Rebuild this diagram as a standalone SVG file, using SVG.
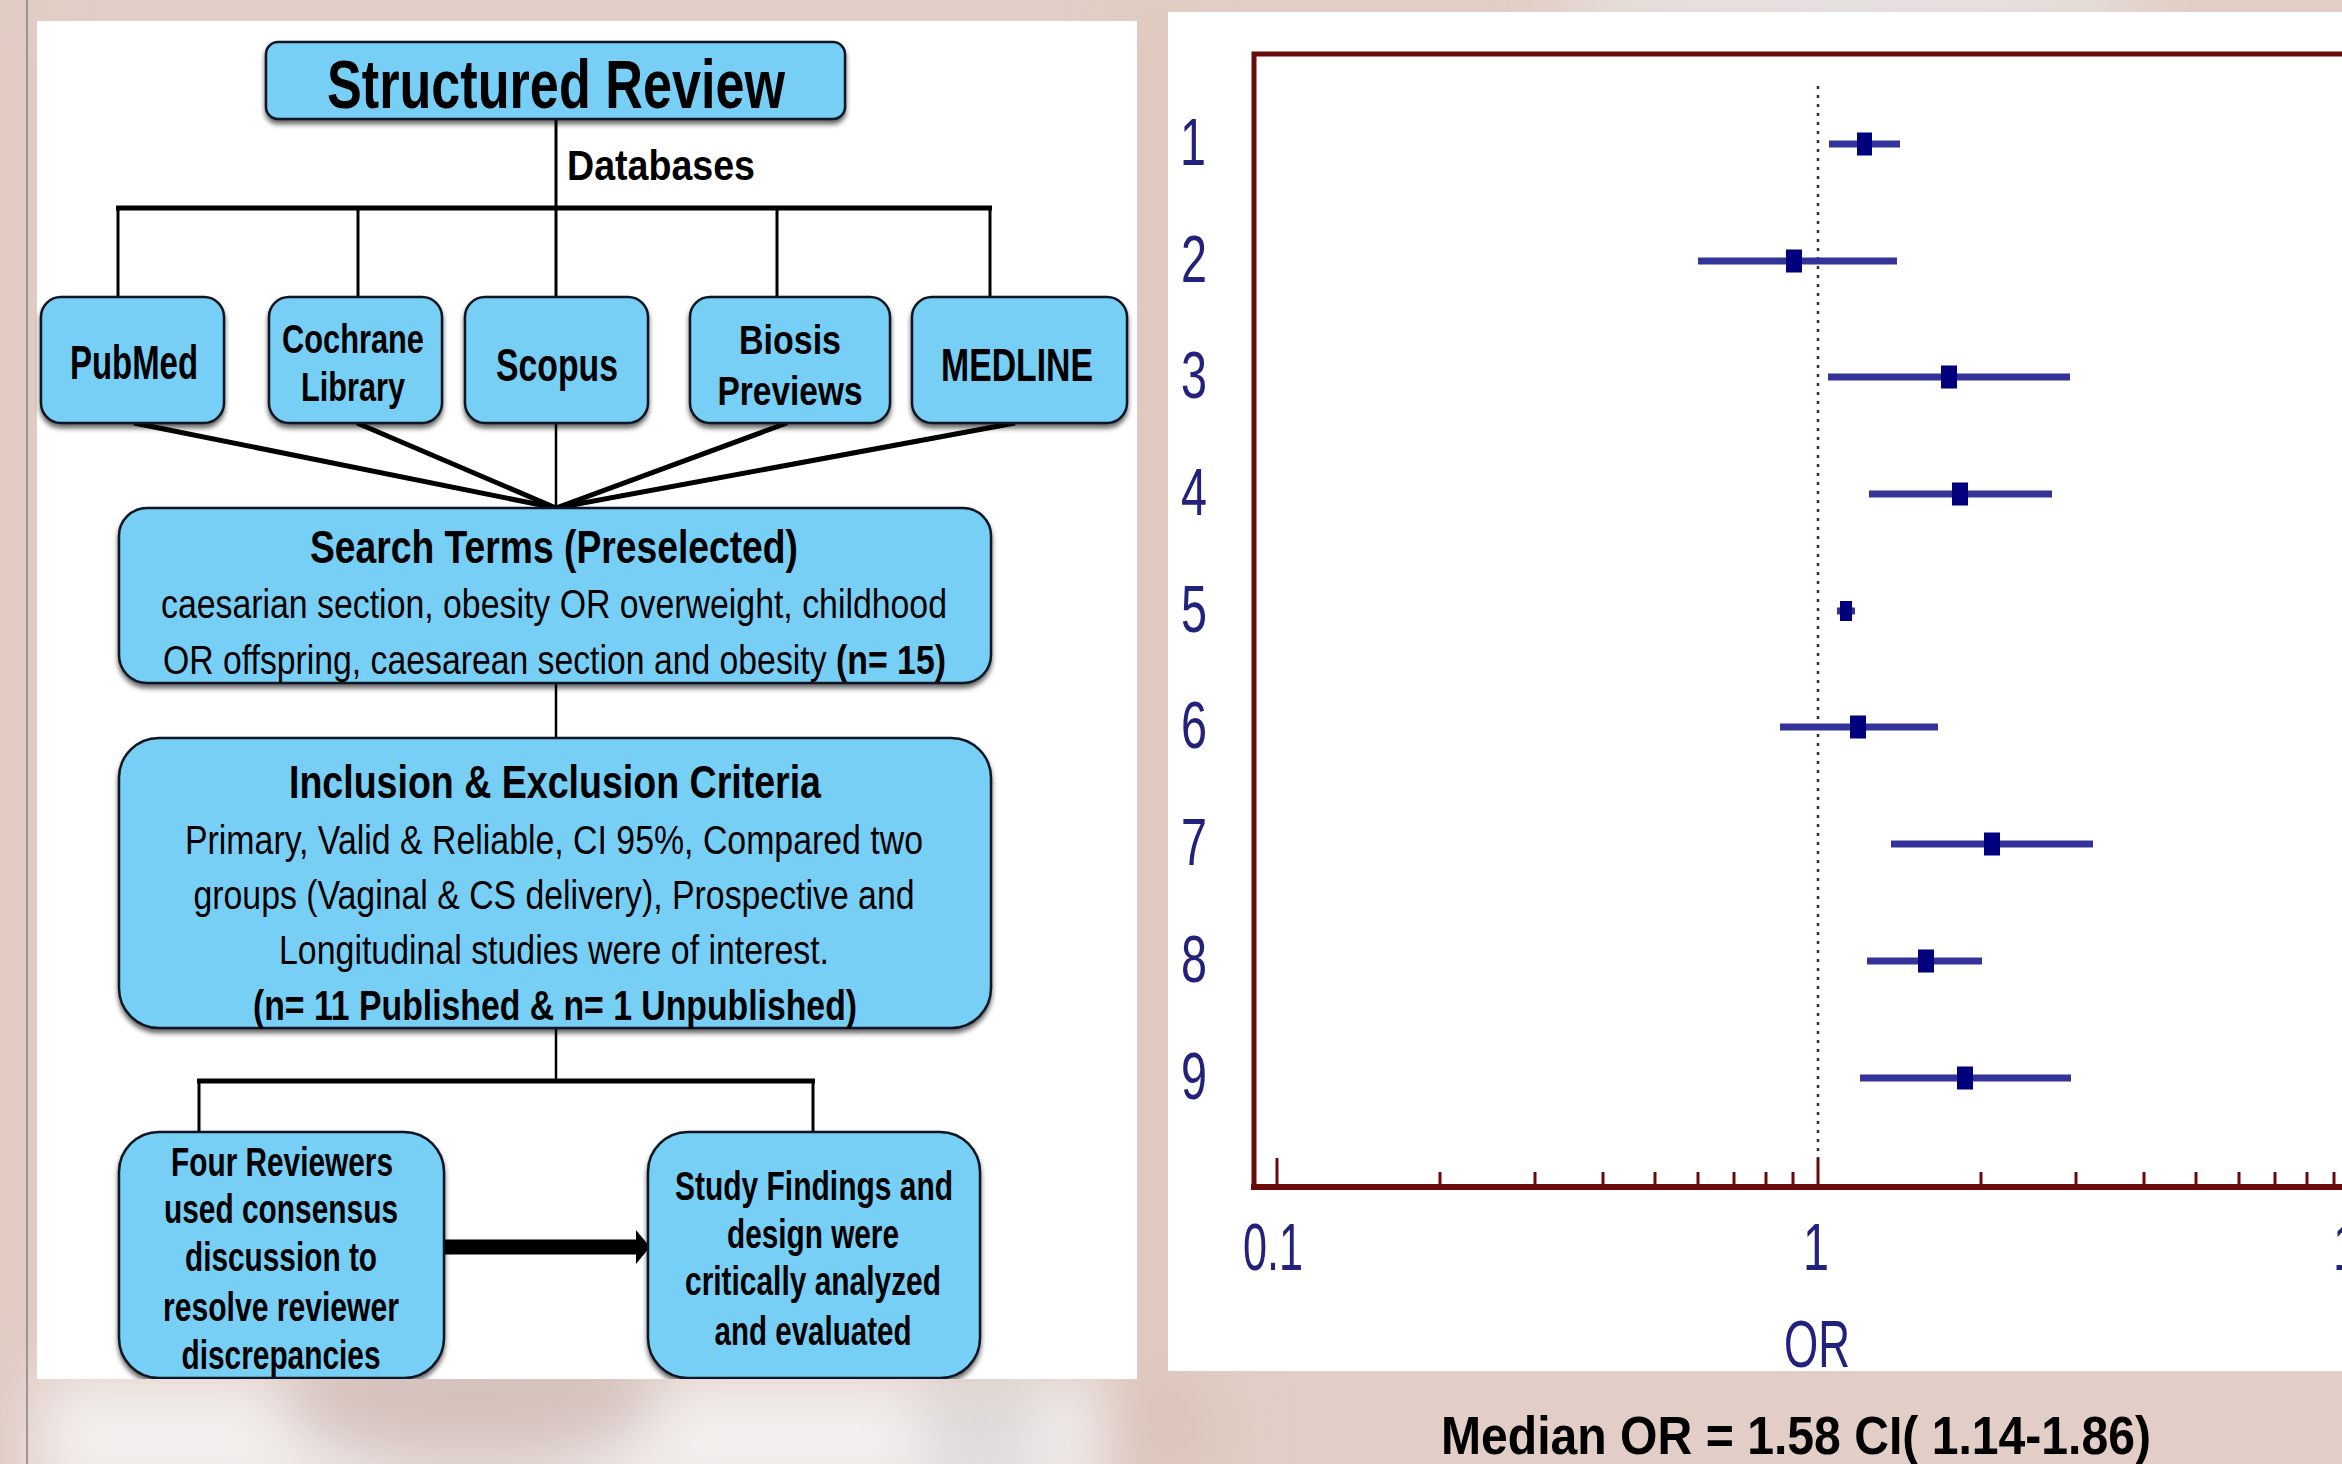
<svg xmlns="http://www.w3.org/2000/svg" width="2342" height="1464" viewBox="0 0 2342 1464">
<defs>
<style>
.box{fill:#78cff6;stroke:#0e1620;stroke-width:2.5;filter:url(#sh)}
.t{font-family:'Liberation Sans',Arial,Helvetica,sans-serif;fill:#000;text-anchor:middle}
.s{text-anchor:start}
.b{font-weight:bold}
.ln{stroke:#000;fill:none;stroke-linecap:butt}
.frame{stroke:#6b0a0a;fill:none}
.tick{stroke:#6b0a0a;stroke-width:3}
.bar{stroke:#33339a;stroke-width:7}
.sq{fill:#00007f}
.pl{font-family:'Liberation Sans',Arial,Helvetica,sans-serif;fill:#22227c;text-anchor:middle;font-size:66px}
</style>
<filter id="sh" x="-10%" y="-10%" width="120%" height="130%">
<feDropShadow dx="0" dy="4" stdDeviation="2.5" flood-color="#000" flood-opacity="0.6"/>
</filter>
<filter id="blur" x="-20%" y="-20%" width="140%" height="140%">
<feGaussianBlur stdDeviation="30"/>
</filter>
<clipPath id="lp"><rect x="37" y="21" width="1100" height="1358"/></clipPath>
<marker id="ah" markerUnits="userSpaceOnUse" markerWidth="15" markerHeight="34" refX="0" refY="17" orient="auto">
<path d="M0,0 L14,17 L0,34 z" fill="#000"/>
</marker>
</defs>

<g id="background">
<rect x="0" y="0" width="2342" height="1464" fill="#e2cec6"/>
<g filter="url(#blur)">
<ellipse cx="1850" cy="0" rx="300" ry="40" fill="#e6e4e4"/>
<rect x="40" y="1380" width="1060" height="120" fill="#f3f0ef"/>
<ellipse cx="470" cy="1400" rx="190" ry="70" fill="#d6c2bd"/>
<rect x="920" y="1380" width="120" height="100" fill="#dedada"/>
<rect x="1100" y="1380" width="120" height="100" fill="#dbc5bc"/>
<rect x="1140" y="0" width="28" height="1464" fill="#dbc1b8"/>
<rect x="0" y="0" width="24" height="1464" fill="#dfc5be"/>
</g>
<line x1="27" y1="0" x2="27" y2="1464" stroke="#9c9595" stroke-width="2"/>
<rect x="37" y="21" width="1100" height="1358" fill="#ffffff"/>
<rect x="1168" y="12" width="1174" height="1359" fill="#ffffff"/>
</g>

<g id="connectors">
<line class="ln" x1="556" y1="119" x2="556" y2="208" stroke-width="3"/>
<line class="ln" x1="116" y1="208" x2="992" y2="208" stroke-width="5"/>
<line class="ln" x1="118" y1="208" x2="118" y2="297" stroke-width="3"/>
<line class="ln" x1="358" y1="208" x2="358" y2="297" stroke-width="3"/>
<line class="ln" x1="556" y1="208" x2="556" y2="297" stroke-width="3"/>
<line class="ln" x1="777" y1="208" x2="777" y2="297" stroke-width="3"/>
<line class="ln" x1="990" y1="208" x2="990" y2="297" stroke-width="3"/>
<line class="ln" x1="134" y1="423" x2="556" y2="508" stroke-width="5"/>
<line class="ln" x1="357" y1="423" x2="556" y2="508" stroke-width="5"/>
<line class="ln" x1="556" y1="423" x2="556" y2="508" stroke-width="2.5"/>
<line class="ln" x1="787" y1="423" x2="556" y2="508" stroke-width="5"/>
<line class="ln" x1="1015" y1="423" x2="556" y2="508" stroke-width="5"/>
<line class="ln" x1="556" y1="683" x2="556" y2="738" stroke-width="2.5"/>
<line class="ln" x1="556" y1="1028" x2="556" y2="1081" stroke-width="2.5"/>
<line class="ln" x1="197" y1="1081" x2="815" y2="1081" stroke-width="5"/>
<line class="ln" x1="199" y1="1081" x2="199" y2="1132" stroke-width="3"/>
<line class="ln" x1="813" y1="1081" x2="813" y2="1132" stroke-width="3"/>
<line class="ln" x1="444" y1="1247" x2="636" y2="1247" stroke-width="15" marker-end="url(#ah)"/>
</g>

<g id="n-title">
<rect class="box" x="266" y="42" width="579" height="77" rx="12"/>
<text class="t b" x="556" y="108" font-size="68" textLength="458" lengthAdjust="spacingAndGlyphs">Structured Review</text>
</g>
<g id="n-databases-label">
<text class="t b s" x="567" y="180" font-size="42" textLength="188" lengthAdjust="spacingAndGlyphs">Databases</text>
</g>

<g id="n-pubmed">
<rect class="box" x="41" y="297" width="183" height="126" rx="20"/>
<text class="t b" x="134" y="379" font-size="48" textLength="128" lengthAdjust="spacingAndGlyphs">PubMed</text>
</g>
<g id="n-cochrane">
<rect class="box" x="269" y="297" width="173" height="126" rx="20"/>
<text class="t b" x="353" y="353" font-size="41" textLength="142" lengthAdjust="spacingAndGlyphs">Cochrane</text>
<text class="t b" x="353" y="401" font-size="41" textLength="104" lengthAdjust="spacingAndGlyphs">Library</text>
</g>
<g id="n-scopus">
<rect class="box" x="465" y="297" width="183" height="126" rx="20"/>
<text class="t b" x="557" y="381" font-size="47" textLength="122" lengthAdjust="spacingAndGlyphs">Scopus</text>
</g>
<g id="n-biosis">
<rect class="box" x="690" y="297" width="200" height="126" rx="20"/>
<text class="t b" x="790" y="354" font-size="41" textLength="102" lengthAdjust="spacingAndGlyphs">Biosis</text>
<text class="t b" x="790" y="405" font-size="41" textLength="145" lengthAdjust="spacingAndGlyphs">Previews</text>
</g>
<g id="n-medline">
<rect class="box" x="912" y="297" width="215" height="126" rx="20"/>
<text class="t b" x="1017" y="381" font-size="47" textLength="152" lengthAdjust="spacingAndGlyphs">MEDLINE</text>
</g>

<g id="n-search">
<rect class="box" x="119" y="508" width="872" height="175" rx="28"/>
<text class="t b" x="554" y="563" font-size="46" textLength="488" lengthAdjust="spacingAndGlyphs">Search Terms (Preselected)</text>
<text class="t" x="554" y="618" font-size="40" textLength="786" lengthAdjust="spacingAndGlyphs">caesarian section, obesity OR overweight, childhood</text>
<text class="t s" transform="translate(163,674) scale(0.844,1)" x="0" y="0" font-size="40">OR offspring, caesarean section and obesity</text>
<text class="t b s" transform="translate(836,674) scale(0.846,1)" x="0" y="0" font-size="40">(n= 15)</text>
</g>

<g id="n-inclusion">
<rect class="box" x="119" y="738" width="872" height="290" rx="40"/>
<text class="t b" x="555" y="798" font-size="46" textLength="532" lengthAdjust="spacingAndGlyphs">Inclusion &amp; Exclusion Criteria</text>
<text class="t" x="554" y="854" font-size="40" textLength="738" lengthAdjust="spacingAndGlyphs">Primary, Valid &amp; Reliable, CI 95%, Compared two</text>
<text class="t" x="554" y="909" font-size="40" textLength="721" lengthAdjust="spacingAndGlyphs">groups (Vaginal &amp; CS delivery), Prospective and</text>
<text class="t" x="554" y="964" font-size="40" textLength="550" lengthAdjust="spacingAndGlyphs">Longitudinal studies were of interest.</text>
<text class="t b" x="555" y="1020" font-size="42" textLength="604" lengthAdjust="spacingAndGlyphs">(n= 11 Published &amp; n= 1 Unpublished)</text>
</g>

<g id="n-reviewers" clip-path="url(#lp)">
<rect class="box" x="119" y="1132" width="325" height="246" rx="40"/>
<text class="t b" x="282" y="1176" font-size="40" textLength="222" lengthAdjust="spacingAndGlyphs">Four Reviewers</text>
<text class="t b" x="281" y="1223" font-size="40" textLength="234" lengthAdjust="spacingAndGlyphs">used consensus</text>
<text class="t b" x="281" y="1271" font-size="40" textLength="192" lengthAdjust="spacingAndGlyphs">discussion to</text>
<text class="t b" x="281" y="1321" font-size="40" textLength="236" lengthAdjust="spacingAndGlyphs">resolve reviewer</text>
<text class="t b" x="281" y="1369" font-size="40" textLength="199" lengthAdjust="spacingAndGlyphs">discrepancies</text>
</g>

<g id="n-findings" clip-path="url(#lp)">
<rect class="box" x="648" y="1132" width="332" height="246" rx="40"/>
<text class="t b" x="814" y="1200" font-size="40" textLength="278" lengthAdjust="spacingAndGlyphs">Study Findings and</text>
<text class="t b" x="813" y="1248" font-size="40" textLength="172" lengthAdjust="spacingAndGlyphs">design were</text>
<text class="t b" x="813" y="1295" font-size="40" textLength="256" lengthAdjust="spacingAndGlyphs">critically analyzed</text>
<text class="t b" x="813" y="1345" font-size="40" textLength="197" lengthAdjust="spacingAndGlyphs">and evaluated</text>
</g>

<g id="forest-plot">
<path class="frame" d="M1254,1187 V54 H2342" stroke-width="5"/>
<line class="frame" x1="1251" y1="1187" x2="2342" y2="1187" stroke-width="6"/>
<line x1="1818" y1="86" x2="1818" y2="1158" stroke="#2b2b55" stroke-width="2.5" stroke-dasharray="3 6"/>
<g id="ticks">
<line class="tick" x1="1277" y1="1158" x2="1277" y2="1187"/>
<line class="tick" x1="1818" y1="1158" x2="1818" y2="1187"/>
<line class="tick" x1="1440" y1="1172" x2="1440" y2="1187"/>
<line class="tick" x1="1535" y1="1172" x2="1535" y2="1187"/>
<line class="tick" x1="1603" y1="1172" x2="1603" y2="1187"/>
<line class="tick" x1="1655" y1="1172" x2="1655" y2="1187"/>
<line class="tick" x1="1698" y1="1172" x2="1698" y2="1187"/>
<line class="tick" x1="1734" y1="1172" x2="1734" y2="1187"/>
<line class="tick" x1="1766" y1="1172" x2="1766" y2="1187"/>
<line class="tick" x1="1793" y1="1172" x2="1793" y2="1187"/>
<line class="tick" x1="1981" y1="1172" x2="1981" y2="1187"/>
<line class="tick" x1="2076" y1="1172" x2="2076" y2="1187"/>
<line class="tick" x1="2144" y1="1172" x2="2144" y2="1187"/>
<line class="tick" x1="2196" y1="1172" x2="2196" y2="1187"/>
<line class="tick" x1="2239" y1="1172" x2="2239" y2="1187"/>
<line class="tick" x1="2275" y1="1172" x2="2275" y2="1187"/>
<line class="tick" x1="2307" y1="1172" x2="2307" y2="1187"/>
<line class="tick" x1="2334" y1="1172" x2="2334" y2="1187"/>
</g>
<g id="row-labels">
<text class="pl" x="1193" y="165" textLength="26" lengthAdjust="spacingAndGlyphs">1</text>
<text class="pl" x="1194" y="282" textLength="26" lengthAdjust="spacingAndGlyphs">2</text>
<text class="pl" x="1194" y="398" textLength="26" lengthAdjust="spacingAndGlyphs">3</text>
<text class="pl" x="1194" y="515" textLength="26" lengthAdjust="spacingAndGlyphs">4</text>
<text class="pl" x="1194" y="632" textLength="26" lengthAdjust="spacingAndGlyphs">5</text>
<text class="pl" x="1194" y="748" textLength="26" lengthAdjust="spacingAndGlyphs">6</text>
<text class="pl" x="1194" y="865" textLength="26" lengthAdjust="spacingAndGlyphs">7</text>
<text class="pl" x="1194" y="982" textLength="26" lengthAdjust="spacingAndGlyphs">8</text>
<text class="pl" x="1194" y="1099" textLength="26" lengthAdjust="spacingAndGlyphs">9</text>
</g>
<g id="estimates">
<line class="bar" x1="1829" y1="144" x2="1900" y2="144"/><rect class="sq" x="1857" y="132.5" width="15" height="23"/>
<line class="bar" x1="1698" y1="261" x2="1897" y2="261"/><rect class="sq" x="1786" y="249.5" width="16" height="23"/>
<line class="bar" x1="1828" y1="377" x2="2070" y2="377"/><rect class="sq" x="1941" y="365.5" width="16" height="23"/>
<line class="bar" x1="1869" y1="494" x2="2052" y2="494"/><rect class="sq" x="1952" y="482.5" width="16" height="23"/>
<line class="bar" x1="1837" y1="611" x2="1855" y2="611"/><rect class="sq" x="1840" y="601" width="12" height="20"/>
<line class="bar" x1="1780" y1="727" x2="1938" y2="727"/><rect class="sq" x="1850" y="715.5" width="16" height="23"/>
<line class="bar" x1="1891" y1="844" x2="2093" y2="844"/><rect class="sq" x="1984" y="832.5" width="16" height="23"/>
<line class="bar" x1="1867" y1="961" x2="1982" y2="961"/><rect class="sq" x="1918" y="949.5" width="16" height="23"/>
<line class="bar" x1="1860" y1="1078" x2="2071" y2="1078"/><rect class="sq" x="1957" y="1066.5" width="16" height="23"/>
</g>
<g id="axis-labels">
<text class="pl" x="1273" y="1270" textLength="60" lengthAdjust="spacingAndGlyphs">0.1</text>
<text class="pl" x="1816" y="1270" textLength="26" lengthAdjust="spacingAndGlyphs">1</text>
<text class="pl" x="2359" y="1270" textLength="52" lengthAdjust="spacingAndGlyphs">10</text>
<text class="pl" x="1817" y="1367" textLength="66" lengthAdjust="spacingAndGlyphs">OR</text>
</g>
</g>

<g id="caption">
<text class="t b s" x="1441" y="1454" font-size="53" textLength="710" lengthAdjust="spacingAndGlyphs">Median OR = 1.58 CI( 1.14-1.86)</text>
</g>
</svg>
